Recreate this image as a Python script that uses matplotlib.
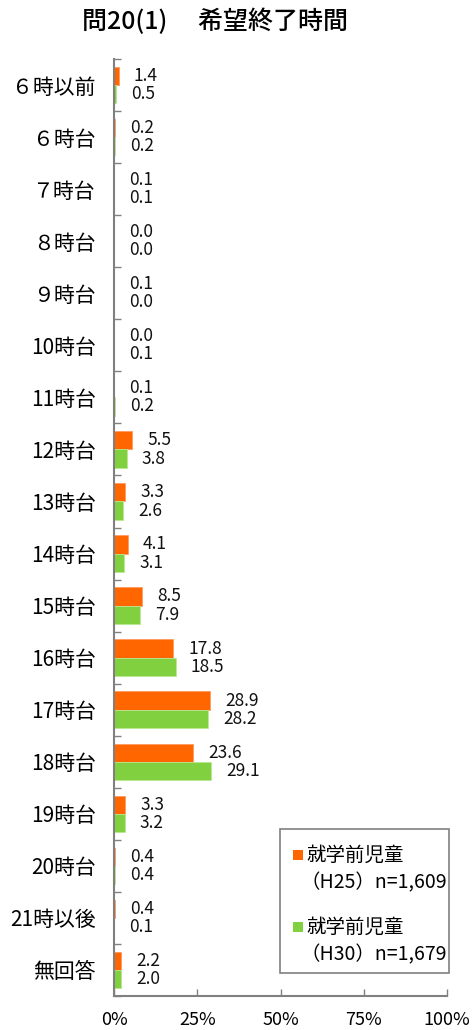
import matplotlib
matplotlib.use("Agg")
import matplotlib.pyplot as plt
import numpy as np
from matplotlib.patches import Rectangle

plt.rcParams['font.family'] = ['Noto Sans CJK JP', 'DejaVu Sans']

categories = ["６時以前", "６時台", "７時台", "８時台", "９時台", "10時台", "11時台",
              "12時台", "13時台", "14時台", "15時台", "16時台", "17時台", "18時台",
              "19時台", "20時台", "21時以後", "無回答"]
h25 = [1.4, 0.2, 0.1, 0.0, 0.1, 0.0, 0.1, 5.5, 3.3, 4.1, 8.5, 17.8, 28.9, 23.6, 3.3, 0.4, 0.4, 2.2]
h30 = [0.5, 0.2, 0.1, 0.0, 0.0, 0.1, 0.2, 3.8, 2.6, 3.1, 7.9, 18.5, 28.2, 29.1, 3.2, 0.4, 0.1, 2.0]
series_names = ["就学前児童", "就学前児童"]
series_sub = ["（H25）n=1,609", "（H30）n=1,679"]
xticks = [0, 25, 50, 75, 100]
xtick_labels = ["0%", "25%", "50%", "75%", "100%"]
title = "問20(1)　 希望終了時間"

c_orange = "#FF6600"
c_green = "#80D040"
colors = [c_orange, c_green]

W, H = 475, 1030
fig = plt.figure(figsize=(W / 100, H / 100), dpi=100)
ax = fig.add_axes([114 / W, 1 - 996 / H, 333 / W, 937 / H])

n = len(categories)
y = np.arange(n)
bh = 0.35
ax.barh(y - bh / 2, h25, height=bh, color=c_orange, edgecolor="#FF9A60", linewidth=0.6)
ax.barh(y + bh / 2, h30, height=bh, color=c_green, edgecolor="#B8E890", linewidth=0.6)

for i in range(n):
    ax.annotate(f"{h25[i]:.1f}", (h25[i], y[i] - bh / 2), xytext=(11, 0),
                textcoords="offset points", ha="left", va="center", fontsize=12.5, color="#111111")
    ax.annotate(f"{h30[i]:.1f}", (h30[i], y[i] + bh / 2), xytext=(11, 0),
                textcoords="offset points", ha="left", va="center", fontsize=12.5, color="#111111")

ax.set_xlim(0, 100)
ax.set_ylim(n - 0.5, -0.5)
ax.set_yticks(y)
ax.set_yticklabels(categories, fontsize=15)
ax.set_yticks(np.arange(-0.5, n, 1.0), minor=True)
ax.tick_params(axis="y", which="major", length=0, pad=13)
ax.tick_params(axis="y", which="minor", direction="in", length=5, color="#808080", width=1)
ax.set_xticks(xticks)
ax.set_xticklabels(xtick_labels, fontsize=13)
ax.tick_params(axis="x", direction="in", length=5, color="#808080", width=1, pad=11)

for s in ["top", "right"]:
    ax.spines[s].set_visible(False)
for s in ["left", "bottom"]:
    ax.spines[s].set_color("#808080")
    ax.spines[s].set_linewidth(1.5)

# legend box (manual, to align the marker with the first line of each label)
fig.patches.append(Rectangle((280 / W, 1 - 973 / H), 169 / W, 144 / H, transform=fig.transFigure,
                             facecolor="white", edgecolor="#808080", linewidth=1.2, zorder=5))
first_line_y = [855, 927]
for k in range(2):
    yy = first_line_y[k]
    fig.patches.append(Rectangle((293 / W, 1 - (yy + 5) / H), 10 / W, 10 / H, transform=fig.transFigure,
                                 facecolor=colors[k], edgecolor="none", zorder=6))
    fig.text(306 / W, 1 - yy / H, series_names[k], ha="left", va="center", fontsize=14, zorder=7)
    fig.text(300 / W, 1 - (yy + 28) / H, series_sub[k], ha="left", va="center", fontsize=14, zorder=7)

fig.text(215 / W, 1 - 22 / H, title, ha="center", va="center", fontsize=18, fontweight="medium")

fig.savefig("out.png", dpi=100)
